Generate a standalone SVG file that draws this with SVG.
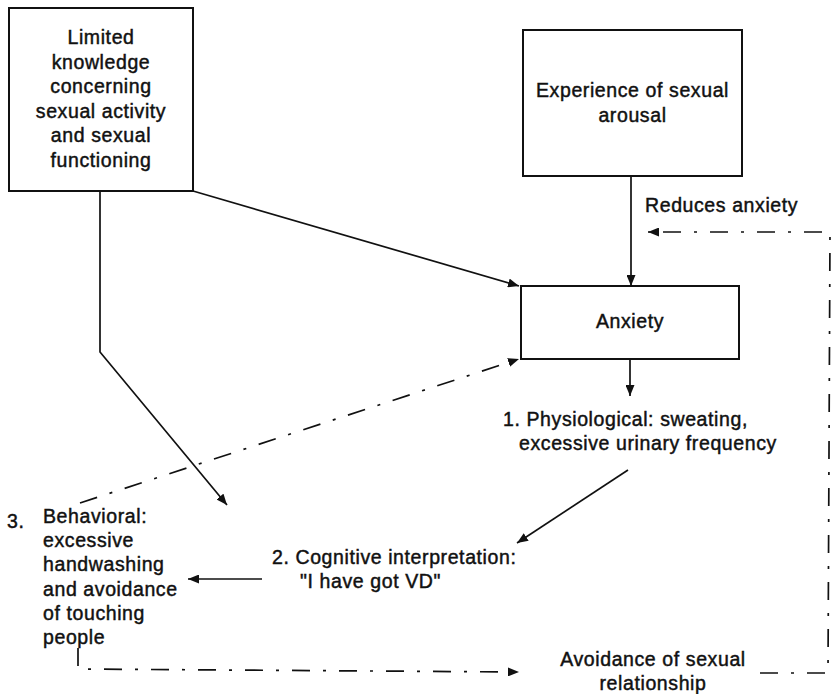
<svg xmlns="http://www.w3.org/2000/svg" width="834" height="694" viewBox="0 0 834 694">
<style>
text{font-family:"Liberation Sans",Arial,sans-serif;font-size:19.5px;letter-spacing:0.6px;fill:#111;stroke:#111;stroke-width:0.45}
.box{fill:#fff;stroke:#111;stroke-width:2}
.c{text-anchor:middle}
.ln{fill:none;stroke:#111;stroke-width:1.7}
.dd{fill:none;stroke:#111;stroke-width:1.7;stroke-dasharray:18 13 3 13}
</style>
<defs>
<marker id="ah" markerUnits="userSpaceOnUse" markerWidth="11" markerHeight="9" refX="11" refY="4.5" orient="auto">
<path d="M0,0 L11,4.5 L0,9 z" fill="#111" stroke="none"/>
</marker>
</defs>
<rect width="834" height="694" fill="#fff"/>
<g id="knowledge">
<rect class="box" x="9" y="8" width="184" height="183"/>
<text class="c" x="101" y="44">Limited</text>
<text class="c" x="101" y="68.5">knowledge</text>
<text class="c" x="101" y="93">concerning</text>
<text class="c" x="101" y="117.5">sexual activity</text>
<text class="c" x="101" y="142">and sexual</text>
<text class="c" x="101" y="166.5">functioning</text>
</g>
<g id="experience">
<rect class="box" x="523" y="30" width="219" height="146"/>
<text class="c" x="632.5" y="97">Experience of sexual</text>
<text class="c" x="632.5" y="122">arousal</text>
</g>
<g id="anxiety">
<rect class="box" x="521" y="286" width="218" height="73"/>
<text class="c" x="630" y="328">Anxiety</text>
</g>
<g id="physiological">
<text x="503" y="426">1. Physiological: sweating,</text>
<text x="519" y="450">excessive urinary frequency</text>
</g>
<g id="cognitive">
<text x="272" y="564">2. Cognitive interpretation:</text>
<text x="300" y="588">"I have got VD"</text>
</g>
<g id="behavioral">
<text x="7" y="528">3.</text>
<text x="43" y="523">Behavioral:</text>
<text x="43" y="547">excessive</text>
<text x="43" y="571">handwashing</text>
<text x="43" y="596">and avoidance</text>
<text x="43" y="620">of touching</text>
<text x="43" y="644">people</text>
</g>
<g id="avoidance">
<text class="c" x="653" y="666">Avoidance of sexual</text>
<text class="c" x="653" y="690">relationship</text>
</g>
<g id="connectors">
<path class="ln" d="M193,191 L519,286" marker-end="url(#ah)"/>
<path class="ln" d="M100,191 L100,352 L227,505" marker-end="url(#ah)"/>
<path class="ln" d="M631,176 L631,286" marker-end="url(#ah)"/>
<path class="ln" d="M630,359 L630,396" marker-end="url(#ah)"/>
<path class="ln" d="M628,470 L517,543" marker-end="url(#ah)"/>
<path class="ln" d="M262,579 L188,579" marker-end="url(#ah)"/>
<text x="645" y="212">Reduces anxiety</text>
<path class="dd" d="M80,503 L519,359" marker-end="url(#ah)"/>
<path class="dd" d="M78,648 L78,669 L519,672" marker-end="url(#ah)"/>
<path class="dd" d="M760,673 L828,673 L830,232 L648,232" marker-end="url(#ah)"/>
</g>
</svg>
